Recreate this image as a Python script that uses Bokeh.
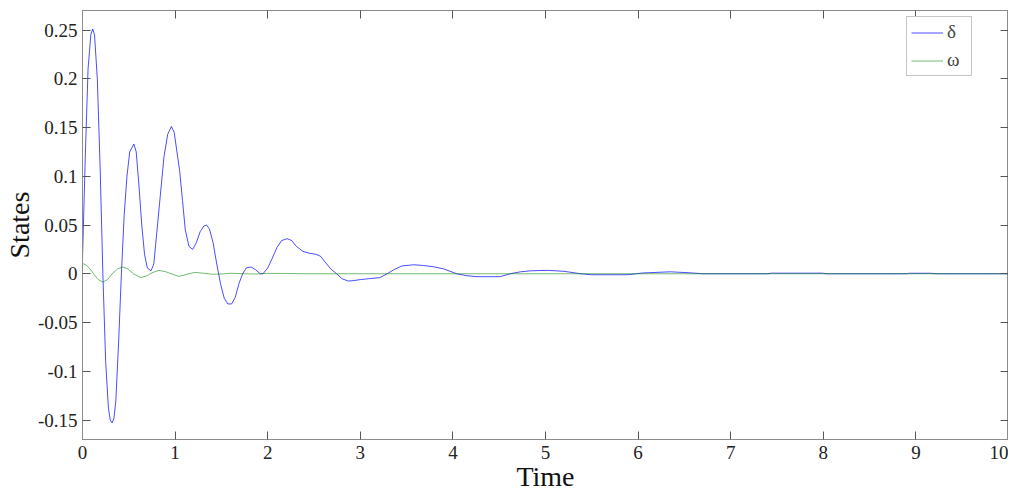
from bokeh.plotting import figure
from bokeh.models import Range1d, FixedTicker, LinearAxis, Legend, LegendItem
from bokeh.embed import file_html
from bokeh.resources import INLINE

# data
t_delta = [0.00, 0.03, 0.06, 0.09, 0.11, 0.13, 0.16, 0.19, 0.22, 0.25, 0.28, 0.30, 0.32, 0.34, 0.36,
           0.39, 0.42, 0.45, 0.48, 0.51, 0.555, 0.58, 0.61, 0.64, 0.67, 0.70, 0.74, 0.77, 0.80,
           0.84, 0.88, 0.92, 0.96, 0.99, 1.02, 1.05, 1.08, 1.11, 1.15, 1.19, 1.23, 1.27, 1.31,
           1.34, 1.37, 1.41, 1.45, 1.49, 1.53, 1.57, 1.61, 1.65, 1.69, 1.73, 1.77, 1.82, 1.87,
           1.92, 1.95, 2.00, 2.05, 2.10, 2.15, 2.21, 2.26, 2.31, 2.38, 2.45, 2.52, 2.57, 2.62,
           2.68, 2.745, 2.80, 2.87, 2.93, 3.00, 3.10, 3.21, 3.29, 3.36, 3.45, 3.575, 3.68, 3.79,
           3.90, 4.04, 4.15, 4.26, 4.51, 4.62, 4.73, 4.84, 5.02, 5.20, 5.38, 5.50, 5.89, 6.05,
           6.35, 6.55, 6.70, 7.40, 7.44, 7.99, 8.03, 8.90, 8.93, 9.17, 9.20, 10.0]
delta = [0.015, 0.12, 0.21, 0.245, 0.251, 0.245, 0.20, 0.11, 0.0, -0.09, -0.138, -0.150, -0.153, -0.148, -0.13,
         -0.07, 0.0, 0.06, 0.10, 0.125, 0.133, 0.125, 0.09, 0.05, 0.02, 0.006, 0.003, 0.01, 0.04,
         0.08, 0.12, 0.143, 0.151, 0.145, 0.125, 0.105, 0.075, 0.045, 0.028, 0.025, 0.032, 0.043, 0.049,
         0.050, 0.046, 0.032, 0.010, -0.010, -0.025, -0.031, -0.031, -0.024, -0.010, 0.0, 0.006, 0.007, 0.004,
         0.0, 0.0, 0.006, 0.016, 0.027, 0.034, 0.036, 0.034, 0.028, 0.023, 0.021, 0.020, 0.018, 0.012,
         0.005, 0.0, -0.005, -0.0075, -0.007, -0.006, -0.005, -0.004, 0.0, 0.004, 0.008, 0.0092, 0.0085, 0.0072,
         0.005, 0.0, -0.002, -0.003, -0.003, 0.0, 0.002, 0.003, 0.0035, 0.0025, 0.0, -0.001, -0.001, 0.0008,
         0.002, 0.001, 0.0, 0.0, 0.0006, 0.0006, 0.0, 0.0, 0.0005, 0.0005, 0.0, 0.0]

t_omega = [0.00, 0.04, 0.08, 0.12, 0.17, 0.22, 0.27, 0.32, 0.38, 0.436, 0.49, 0.55, 0.628, 0.70,
           0.75, 0.826, 0.90, 0.96, 1.04, 1.12, 1.21, 1.30, 1.40, 1.50, 1.60, 1.75, 1.85, 2.0,
           2.2, 2.4, 10.0]
omega = [0.0106, 0.009, 0.005, 0.0, -0.006, -0.0085, -0.006, 0.0, 0.005, 0.007, 0.005, 0.0, -0.004, -0.002,
         0.001, 0.0035, 0.002, 0.0, -0.0027, -0.0008, 0.0014, 0.0006, -0.0005, -0.0003, 0.0005, 0.0, -0.0003, 0.0004,
         0.0003, 0.0, 0.0]

x_ticks = [0, 1, 2, 3, 4, 5, 6, 7, 8, 9, 10]
y_ticks = [-0.15, -0.1, -0.05, 0, 0.05, 0.1, 0.15, 0.2, 0.25]
y_tick_labels = ["-0.15", "-0.1", "-0.05", "0", "0.05", "0.1", "0.15", "0.2", "0.25"]
x_title = "Time"
y_title = "States"

FONT = "Liberation Serif"
AX_COL = "#8c8c8c"

p = figure(width=1008, height=495, output_backend="svg", toolbar_location=None,
           x_range=Range1d(0, 10), y_range=Range1d(-0.17, 0.27),
           min_border_left=75, min_border_right=0, min_border_top=10, min_border_bottom=56,
           x_axis_label=x_title, y_axis_label=y_title)
p.grid.visible = False
p.outline_line_color = AX_COL
p.background_fill_color = "white"
p.border_fill_color = "white"

r1 = p.line(t_delta, delta, line_color="#0000ff", line_width=1, line_alpha=0.7)
r2 = p.line(t_omega, omega, line_color="#008000", line_width=1, line_alpha=0.55)

def style_axis(ax, show_labels):
    ax.axis_line_color = AX_COL
    ax.major_tick_line_color = "#555555"
    ax.major_tick_in = 8
    ax.major_tick_out = 0
    ax.minor_tick_line_color = None
    ax.major_label_text_font = FONT
    ax.major_label_text_color = "#222222"
    if show_labels:
        ax.major_label_text_font_size = "19px"
        ax.major_label_standoff = 6
    else:
        ax.major_label_text_font_size = "0px"
        ax.major_label_standoff = 0
        ax.major_label_text_color = None

p.xaxis.ticker = FixedTicker(ticks=x_ticks)
p.yaxis.ticker = FixedTicker(ticks=y_ticks)
p.yaxis.major_label_overrides = {v: s for v, s in zip(y_ticks, y_tick_labels)}
style_axis(p.xaxis[0], True)
style_axis(p.yaxis[0], True)
for ax in (p.xaxis[0], p.yaxis[0]):
    ax.axis_label_text_font = FONT
    ax.axis_label_text_font_size = "28px"
    ax.axis_label_text_font_style = "normal"
    ax.axis_label_text_color = "#111111"
p.xaxis.axis_label_standoff = -1
p.yaxis.axis_label_standoff = 0
p.yaxis.major_label_standoff = 5

top_ax = LinearAxis(ticker=FixedTicker(ticks=x_ticks))
right_ax = LinearAxis(ticker=FixedTicker(ticks=y_ticks))
style_axis(top_ax, False)
style_axis(right_ax, False)
p.add_layout(top_ax, "above")
p.add_layout(right_ax, "right")

legend = Legend(items=[LegendItem(label="δ", renderers=[r1]),
                       LegendItem(label="ω", renderers=[r2])],
                location=(824, 363))
legend.label_text_font = FONT
legend.label_text_font_size = "19px"
legend.border_line_color = AX_COL
legend.background_fill_color = "white"
legend.background_fill_alpha = 1
legend.glyph_width = 32
legend.label_standoff = 4
legend.spacing = 6
legend.padding = 4
legend.margin = 0
legend.label_height = 21
legend.glyph_height = 21
p.add_layout(legend, "center")

open("out.html", "w").write(file_html(p, INLINE))
